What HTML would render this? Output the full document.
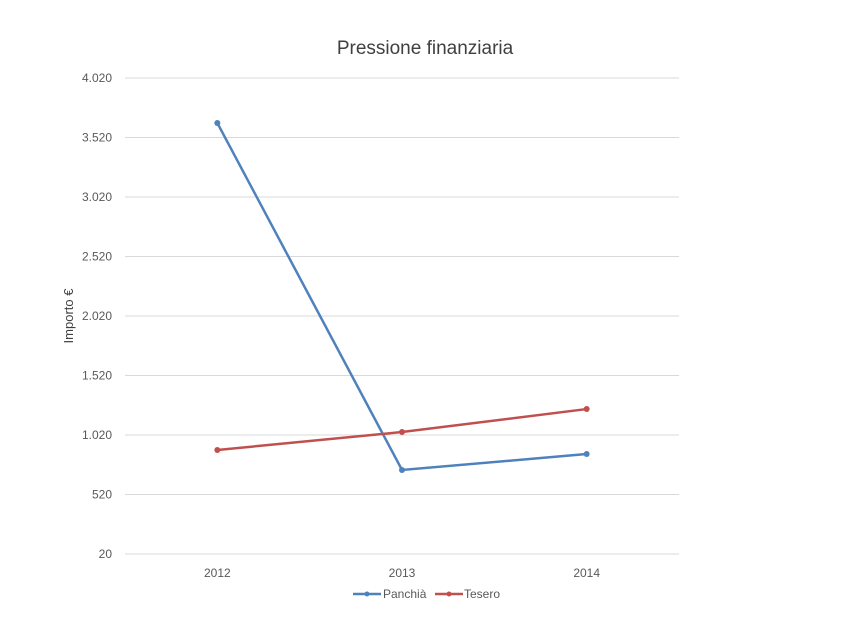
<!DOCTYPE html>
<html><head><meta charset="utf-8"><style>
body{margin:0;background:#fff;font-family:"Liberation Sans",sans-serif;}
</style></head><body>
<svg id="chart" width="850" height="638" xmlns="http://www.w3.org/2000/svg">
<text x="425" y="54" text-anchor="middle" font-size="19" fill="#404040">Pressione finanziaria</text>
<text transform="translate(73,316) rotate(-90)" text-anchor="middle" font-size="13" fill="#404040">Importo €</text>
<g id="grid"></g><g id="series"></g>
<g>
<line x1="353" y1="594" x2="381" y2="594" stroke="#4F81BD" stroke-width="2.5"/><circle cx="367" cy="594" r="2.5" fill="#4F81BD"/>
<text x="383" y="598" font-size="12" fill="#595959">Panchià</text>
<line x1="435" y1="594" x2="463" y2="594" stroke="#C0504D" stroke-width="2.5"/><circle cx="449" cy="594" r="2.5" fill="#C0504D"/>
<text x="464" y="598" font-size="12" fill="#595959">Tesero</text>
</g>
</svg>
<script>
const categories=["2012","2013","2014"];
const panchia=[3642,726,860];
const tesero=[894,1045,1238];
const yTicks=[20,520,1020,1520,2020,2520,3020,3520,4020];
const yTickLabels=["20","520","1.020","1.520","2.020","2.520","3.020","3.520","4.020"];
const NS="http://www.w3.org/2000/svg";
const L=125,R=679,T=78,B=554,yMin=20,yMax=4020;
const x=i=>L+(R-L)/categories.length*(i+0.5);
const y=v=>B-(v-yMin)/(yMax-yMin)*(B-T);
function mk(t,a,p){const e=document.createElementNS(NS,t);for(const k in a)e.setAttribute(k,a[k]);p.appendChild(e);return e;}
const g=document.getElementById('grid');
yTicks.forEach((v,i)=>{
 const l=mk('line',{x1:L,x2:R,y1:y(v),y2:y(v),stroke:'#d9d9d9','stroke-width':1},g);
 
 
 const t=mk('text',{x:112,y:y(v)+4,'text-anchor':'end','font-size':12,fill:'#595959'},g);
 t.textContent=yTickLabels[i];
 
 
});
categories.forEach((c,i)=>{
 const t=mk('text',{x:x(i),y:577,'text-anchor':'middle','font-size':12,fill:'#595959'},g);
 t.textContent=c;
 
 
});
const s=document.getElementById('series');
[[panchia,'#4F81BD','panchia'],[tesero,'#C0504D','tesero']].forEach(([d,col,n])=>{
 const p=mk('polyline',{points:d.map((v,i)=>x(i)+','+y(v)).join(' '),fill:'none',stroke:col,'stroke-width':2.5},s);
 
 
 d.forEach((v,i)=>{
  const c=mk('circle',{cx:x(i),cy:y(v),r:3,fill:col},s);
  
  
 });
});
</script>
</body></html>
